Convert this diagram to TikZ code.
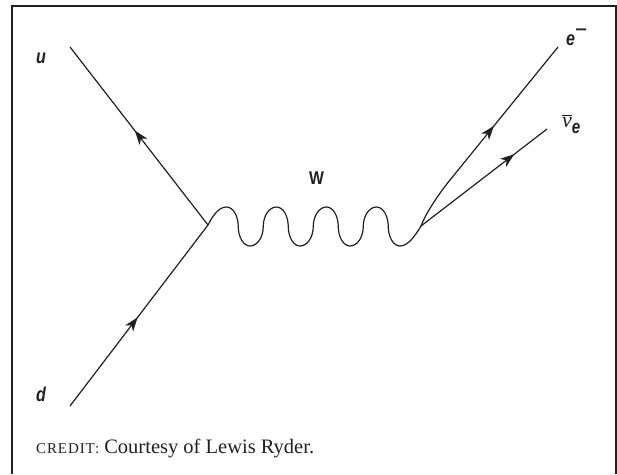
\documentclass[tikz,border=0pt]{standalone}
\usepackage{fontspec}
\setmainfont{Liberation Serif}
\newfontfamily\labfont[FakeStretch=0.8]{Liberation Sans}
\newfontfamily\wfont[FakeStretch=0.85]{Liberation Sans}
\newfontfamily\nufont{Liberation Serif}
\newfontfamily\scfont[LetterSpace=6]{Liberation Serif}
\usetikzlibrary{arrows.meta,decorations.markings}
\definecolor{ink}{HTML}{231F20}
\begin{document}
\begin{tikzpicture}[x=1pt,y=-1pt,
  fermion/.style={line width=1.2pt,draw=ink},
  arrowat/.style={postaction={decorate},decoration={markings,mark=at position #1 with {\arrow{Stealth[length=14pt,width=10pt,inset=4pt]}}}},
  lab/.style={font=\labfont\fontsize{20}{20}\selectfont\bfseries\itshape,inner sep=0pt,text=ink},
  frame/.style={line width=2pt,draw=ink}]
\path[use as bounding box] (0,0) rectangle (617,474);
% frame (open at the bottom)
\draw[frame] (12,474) -- (12,6) -- (615.5,6) -- (615.5,474);
% vertices and free ends
\coordinate (v1) at (208,225);
\coordinate (v2) at (421,226);
\coordinate (uend) at (70,47);
\coordinate (dend) at (70,406);
\coordinate (eend) at (558,47);
\coordinate (nuend) at (547,129);
% fermion lines
\draw[fermion,arrowat=0.53] (v1) -- (uend);
\draw[fermion,arrowat=0.49] (dend) -- (v1);
\draw[fermion,arrowat=0.55] (v2) .. controls (425,215) and (437,196) .. (450,180) -- (eend);
\draw[fermion,arrowat=0.74] (v2) -- (nuend);
% W boson
\draw[fermion] (v1) .. controls (213,215) and (219,207) .. (226.5,207)
  .. controls (233,207) and (238.25,215.8) .. (238.25,226.5)
  .. controls (238.25,237.2) and (243.5,246) .. (250,246)
  .. controls (257.3,246) and (263.25,237.2) .. (263.25,226.5)
  .. controls (263.25,215.8) and (269.2,207) .. (276.5,207)
  .. controls (283,207) and (288.25,215.8) .. (288.25,226.5)
  .. controls (288.25,237.2) and (293.5,246) .. (300,246)
  .. controls (307.3,246) and (313.25,237.2) .. (313.25,226.5)
  .. controls (313.25,215.8) and (319.2,207) .. (326.5,207)
  .. controls (333,207) and (338.25,215.8) .. (338.25,226.5)
  .. controls (338.25,237.2) and (343.5,246) .. (350,246)
  .. controls (357.3,246) and (363.25,237.2) .. (363.25,226.5)
  .. controls (363.25,215.8) and (369.2,207) .. (376.5,207)
  .. controls (383,207) and (388.25,215.8) .. (388.25,226.5)
  .. controls (388.25,237.2) and (393.5,246) .. (400,246)
  .. controls (408,246) and (415,236) .. (v2);
% labels
\node[lab,anchor=base west] (u) at (36,63) {u};
\node[lab,anchor=base west] (d) at (36,401) {d};
\node[inner sep=0pt,anchor=base,text=ink,font=\wfont\fontsize{18.5}{18.5}\selectfont\bfseries] (W) at (316.5,184) {W};
\node[lab,anchor=base west] (e) at (566,45) {e\raisebox{6.2pt}{\fontsize{26}{26}\selectfont\mdseries\upshape −}};
\node[inner sep=0pt,anchor=base west,text=ink] (nu) at (562,127)
  {\fontsize{22}{22}\selectfont$\overline{\hbox{\nufont\itshape ν}}$\raisebox{-6pt}{\labfont\fontsize{19}{19}\selectfont\bfseries\itshape e}};
\node[inner sep=0pt,anchor=base west,text=ink] (credit) at (36,453)
  {{\scfont\fontsize{15}{15}\selectfont CREDIT:}\fontsize{20.5}{20.5}\selectfont\ Courtesy of Lewis Ryder.};
\end{tikzpicture}
\end{document}
